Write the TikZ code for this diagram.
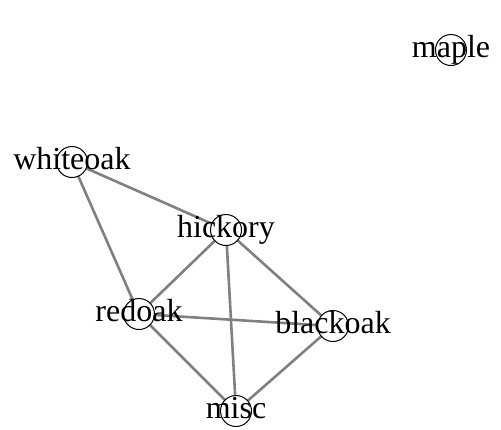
\documentclass[tikz,border=0pt]{standalone}
\usepackage{fontspec}
\setmainfont{Liberation Serif}
\begin{document}
\begin{tikzpicture}[x=1pt,y=-1pt,
  vert/.style={circle,draw=black,line width=1pt,fill=white,minimum size=31pt,inner sep=0pt},
  lbl/.style={anchor=base,inner sep=0pt,font=\fontsize{32}{32}\selectfont},
  edge/.style={draw=gray,line width=2.6pt}]
\useasboundingbox (0,0) rectangle (501,429);
% vertex positions
\coordinate (pmaple) at (451,50);
\coordinate (pwhiteoak) at (72,162);
\coordinate (phickory) at (226,230);
\coordinate (predoak) at (139,314);
\coordinate (pblackoak) at (333,326);
\coordinate (pmisc) at (236,411);
% edges
\draw[edge] (pwhiteoak) -- (phickory);
\draw[edge] (pwhiteoak) -- (predoak);
\draw[edge] (phickory) -- (predoak);
\draw[edge] (phickory) -- (pblackoak);
\draw[edge] (phickory) -- (pmisc);
\draw[edge] (predoak) -- (pblackoak);
\draw[edge] (predoak) -- (pmisc);
\draw[edge] (pblackoak) -- (pmisc);
% vertices
\foreach \v in {maple,whiteoak,hickory,redoak,blackoak,misc}
  \node[vert] (\v) at (p\v) {};
% labels
\foreach \v in {maple,whiteoak,hickory,redoak,blackoak,misc}
  \node[lbl] (t\v) at ([yshift=-7pt]p\v) {\v};
\end{tikzpicture}
\end{document}
